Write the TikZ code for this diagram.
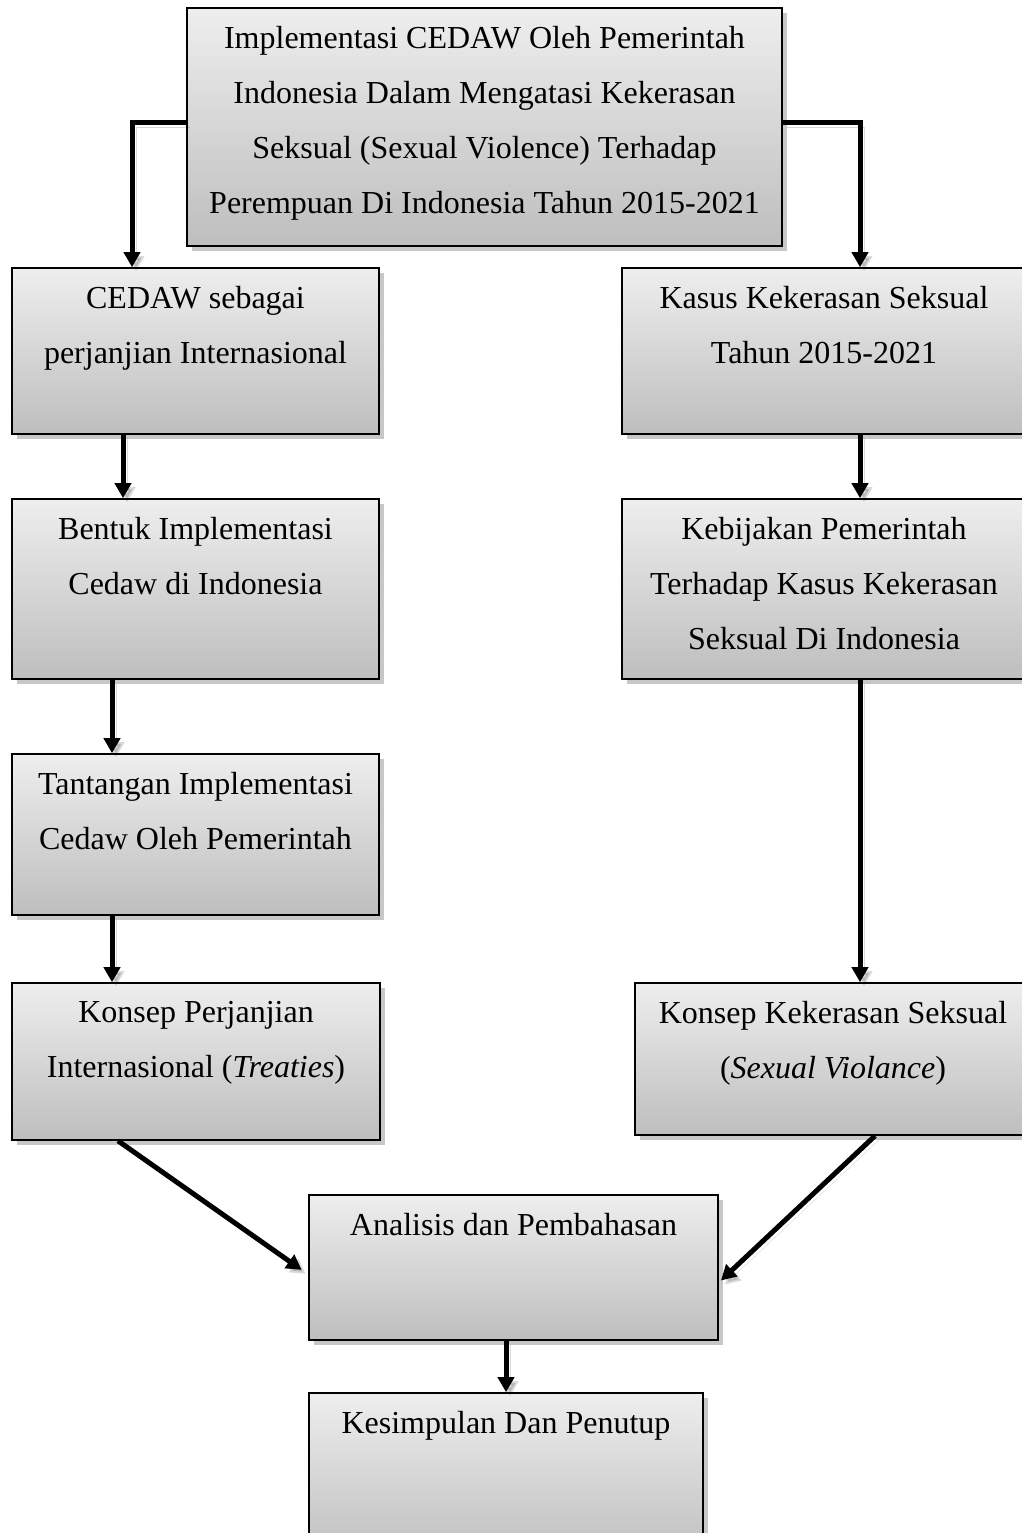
\documentclass[tikz,border=0pt]{standalone}
\usepackage{fontspec}
\setmainfont{Liberation Serif}
\usetikzlibrary{arrows.meta,shadows}
\definecolor{topc}{RGB}{238,238,238}
\definecolor{botc}{RGB}{190,190,190}
\tikzset{
  box/.style={draw=black, line width=1.6pt, rectangle, inner sep=0pt,
    top color=topc, bottom color=botc,
    drop shadow={shadow xshift=5pt, shadow yshift=-5pt, fill=black, opacity=0.22}},
  txt/.style={anchor=north, align=center, inner sep=0pt,
    font=\fontsize{32}{55}\selectfont},
  arr/.style={line width=5pt, -{Triangle[length=15pt,width=16pt]},
    preaction={draw=black, opacity=0.15, transform canvas={xshift=4pt,yshift=-4pt}}},
}
\begin{document}
\begin{tikzpicture}[x=1pt,y=-1pt]
\clip (0,0) rectangle (1022,1533);
\fill[white] (0,0) rectangle (1022,1533);
% boxes
\node[box, minimum width=595pt, minimum height=238pt] (T) at (484.5,127) {};
\node[box, minimum width=367pt, minimum height=166pt] (L1) at (195.5,351) {};
\node[box, minimum width=404pt, minimum height=166pt] (R1) at (824,351) {};
\node[box, minimum width=367pt, minimum height=180pt] (L2) at (195.5,589) {};
\node[box, minimum width=404pt, minimum height=180pt] (R2) at (824,589) {};
\node[box, minimum width=367pt, minimum height=161pt] (L3) at (195.5,834.5) {};
\node[box, minimum width=368pt, minimum height=157pt] (L4) at (196,1061.5) {};
\node[box, minimum width=396pt, minimum height=152pt] (R4) at (833,1059) {};
\node[box, minimum width=409pt, minimum height=145pt] (A) at (513.5,1267.5) {};
\node[box, minimum width=394pt, minimum height=167pt] (K) at (506,1476.5) {};
% texts
\node[txt] (tT) at ([yshift=-19pt]T.north) {Implementasi CEDAW Oleh Pemerintah\\Indonesia Dalam Mengatasi Kekerasan\\Seksual (Sexual Violence) Terhadap\\Perempuan Di Indonesia Tahun 2015-2021};
\node[txt] (tL1) at ([yshift=-19pt]L1.north) {CEDAW sebagai\\perjanjian Internasional};
\node[txt] (tR1) at ([yshift=-19pt]R1.north) {Kasus Kekerasan Seksual\\Tahun 2015-2021};
\node[txt] (tL2) at ([yshift=-19pt]L2.north) {Bentuk Implementasi\\Cedaw di Indonesia};
\node[txt] (tR2) at ([yshift=-19pt]R2.north) {Kebijakan Pemerintah\\Terhadap Kasus Kekerasan\\Seksual Di Indonesia};
\node[txt] (tL3) at ([yshift=-19pt]L3.north) {Tantangan Implementasi\\Cedaw Oleh Pemerintah};
\node[txt] (tL4) at ([yshift=-19pt]L4.north) {Konsep Perjanjian\\Internasional (\textit{Treaties})};
\node[txt] (tR4) at ([yshift=-19pt]R4.north) {Konsep Kekerasan Seksual\\(\textit{Sexual Violance})};
\node[txt] (tA) at ([yshift=-19pt]A.north) {Analisis dan Pembahasan};
\node[txt] (tK) at ([yshift=-19pt]K.north) {Kesimpulan Dan Penutup};
% connectors
\draw[arr] ([yshift=4pt]T.west) -| ([xshift=-63.5pt]L1.north);
\draw[arr] ([yshift=4pt]T.east) -| ([xshift=36pt]R1.north);
\draw[arr] ([xshift=-72.5pt]L1.south) -- ([xshift=-72.5pt]L2.north);
\draw[arr] ([xshift=-83.5pt]L2.south) -- ([xshift=-83.5pt]L3.north);
\draw[arr] ([xshift=-83.5pt]L3.south) -- ([xshift=-84pt]L4.north);
\draw[arr] ([xshift=36pt]R1.south) -- ([xshift=36pt]R2.north);
\draw[arr] ([xshift=36pt]R2.south) -- ([xshift=27pt]R4.north);
\draw[arr, shorten >=8pt] ([xshift=-78pt]L4.south) -- ([yshift=-7pt]A.west);
\draw[arr, shorten >=3pt] ([xshift=42pt]R4.south) -- ([yshift=-15pt]A.east);
\draw[arr] (K.north |- A.south) -- (K.north);
\end{tikzpicture}
\end{document}
